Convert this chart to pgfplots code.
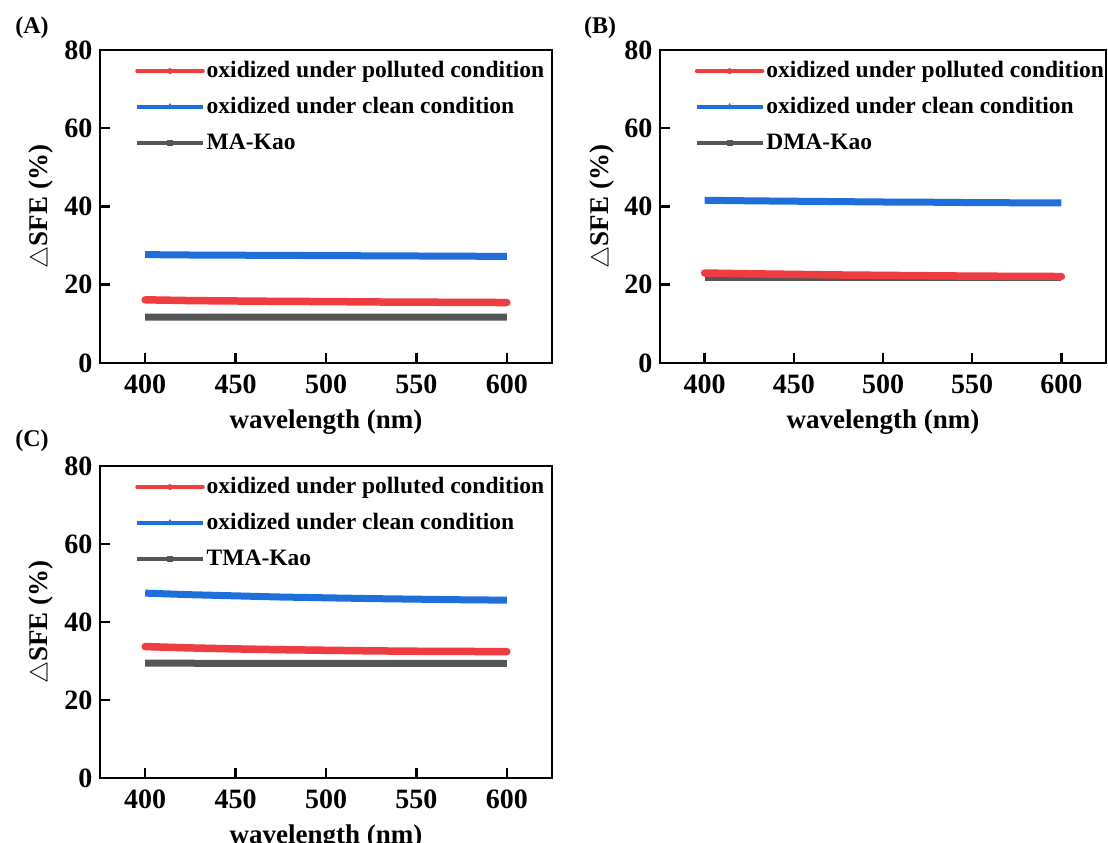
\documentclass[border=0pt]{standalone}
\usepackage{fontspec}
\setmainfont{Liberation Serif}
\usepackage{pgfplots}
\pgfplotsset{compat=1.18}
\definecolor{cred}{RGB}{238,60,64}
\definecolor{cblue}{RGB}{30,110,220}
\definecolor{cgray}{RGB}{85,85,85}
\pgfplotsset{
  panel/.style={
    scale only axis, width=452pt, height=313pt,
    xmin=375, xmax=625, ymin=0, ymax=80,
    xtick={400,450,500,550,600}, ytick={0,20,40,60,80},
    tick align=inside, tick pos=left,
    major tick length=10pt,
    line width=2.7pt,
    every tick/.style={line width=2.5pt, black},
    /pgf/number format/assume math mode=true,
    tick label style={font=\fontsize{28}{28}\selectfont\bfseries},
    xticklabel style={yshift=-7pt},
    yticklabel style={xshift=-3pt},
    xlabel={wavelength (nm)},
    ylabel={$\triangle$SFE (\%)},
    label style={font=\fontsize{27}{27}\selectfont\bfseries},
    xlabel style={at={(axis description cs:0.5,-0.144)}, anchor=north, inner sep=0pt},
    ylabel style={at={(axis description cs:-0.13,0.5)}, anchor=center, inner sep=0pt},
    reverse legend,
    legend cell align=left,
    legend style={at={(0.075,0.972)}, anchor=north west, draw=none, fill=none,
      inner sep=0pt, row sep=14pt,
      nodes={inner sep=0pt, inner xsep=2pt, text height=17pt, text depth=5pt,
        font=\fontsize{23.5}{23.5}\selectfont\bfseries}},
  },
  redp/.style={cred, line width=7.5pt, line cap=round, mark=none,
    legend image code/.code={\draw[cred,line width=3.5pt](0pt,0pt)--(66pt,0pt);
      \path[fill=cred, draw=none](33pt,0pt) circle (3pt);}},
  bluep/.style={cblue, line width=7pt, mark=none,
    legend image code/.code={\draw[cblue,line width=3.5pt](0pt,0pt)--(66pt,0pt);
      \path[fill=cblue, draw=none](29.5pt,-2pt)--(36.5pt,-2pt)--(33pt,4.2pt)--cycle;}},
  grayp/.style={cgray, line width=7pt, mark=none,
    legend image code/.code={\draw[cgray,line width=3.5pt](0pt,0pt)--(66pt,0pt);
      \path[fill=cgray, draw=none](30pt,-3pt) rectangle (36pt,3pt);}},
}
\begin{document}
\begin{tikzpicture}
\useasboundingbox (0,0) rectangle (1108pt,843pt);
% ---------- (A)
\begin{axis}[panel, at={(100pt,480pt)}, anchor=south west]
\addplot[grayp] coordinates {(400,11.75) (450,11.7) (500,11.7) (550,11.7) (600,11.7)};
\addlegendentry{MA-Kao}
\addplot[bluep] coordinates {(400,27.7) (425,27.6) (450,27.55) (475,27.5) (500,27.45) (525,27.4) (550,27.35) (575,27.3) (600,27.25)};
\addlegendentry{oxidized under clean condition}
\addplot[redp] coordinates {(400,16.15) (425,15.95) (450,15.85) (475,15.75) (500,15.7) (525,15.6) (550,15.55) (575,15.5) (600,15.45)};
\addlegendentry{oxidized under polluted condition}
\end{axis}
% ---------- (B)
\begin{axis}[panel, width=446pt, at={(660pt,480pt)}, anchor=south west]
\addplot[grayp] coordinates {(400,21.9) (450,21.9) (500,21.9) (550,21.9) (600,21.9)};
\addlegendentry{DMA-Kao}
\addplot[bluep] coordinates {(400,41.6) (425,41.45) (450,41.35) (475,41.25) (500,41.15) (525,41.1) (550,41.0) (575,40.95) (600,40.9)};
\addlegendentry{oxidized under clean condition}
\addplot[redp] coordinates {(400,23.0) (425,22.8) (450,22.65) (475,22.5) (500,22.4) (525,22.3) (550,22.2) (575,22.15) (600,22.1)};
\addlegendentry{oxidized under polluted condition}
\end{axis}
% ---------- (C)
\begin{axis}[panel, height=312pt, at={(100pt,65pt)}, anchor=south west]
\addplot[grayp] coordinates {(400,29.45) (450,29.4) (500,29.4) (550,29.4) (600,29.4)};
\addlegendentry{TMA-Kao}
\addplot[bluep] coordinates {(400,47.4) (425,47.0) (450,46.7) (475,46.4) (500,46.2) (525,46.0) (550,45.85) (575,45.7) (600,45.6)};
\addlegendentry{oxidized under clean condition}
\addplot[redp] coordinates {(400,33.7) (425,33.35) (450,33.1) (475,32.9) (500,32.75) (525,32.6) (550,32.5) (575,32.45) (600,32.4)};
\addlegendentry{oxidized under polluted condition}
\end{axis}
\node[font=\fontsize{24}{24}\selectfont\bfseries, inner sep=0pt] at (32pt,815pt) {(A)};
\node[font=\fontsize{24}{24}\selectfont\bfseries, inner sep=0pt] at (600pt,815pt) {(B)};
\node[font=\fontsize{24}{24}\selectfont\bfseries, inner sep=0pt] at (32pt,402pt) {(C)};
\end{tikzpicture}
\end{document}
